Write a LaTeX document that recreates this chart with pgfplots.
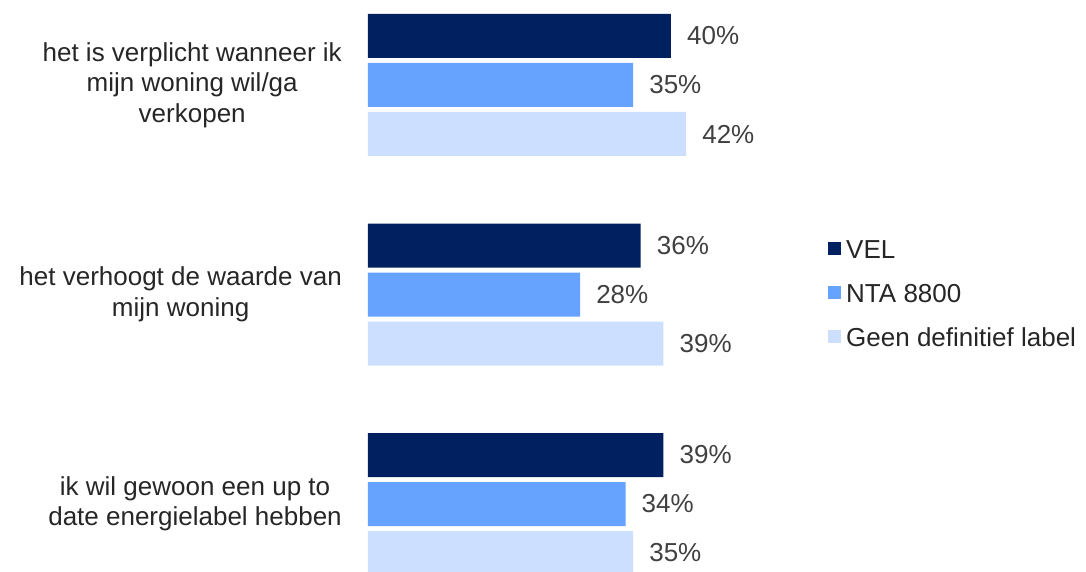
\documentclass[border=0pt]{standalone}
\usepackage{pgfplots}
\pgfplotsset{compat=1.18}
\usepackage{fontspec}
\setmainfont{Liberation Sans}
\definecolor{vel}{HTML}{002060}
\definecolor{nta}{HTML}{66A2FF}
\definecolor{geen}{HTML}{CCDFFF}
\definecolor{lbl}{HTML}{262626}
\definecolor{val}{HTML}{404040}
\newcommand{\bigfont}{\fontsize{26}{30.5}\selectfont}
\begin{document}
\begin{tikzpicture}
\begin{axis}[
  xbar, scale only axis, width=718pt, height=571pt,
  xmin=0, xmax=94.79, ymin=-0.4057, ymax=2.3198, y dir=reverse,
  axis line style={draw=none}, tick style={draw=none}, major tick length=0pt,
  xtick=\empty, ytick={0,1,2},
  /pgf/number format/assume math mode=true,
  yticklabels={{het is verplicht wanneer ik\\mijn woning wil/ga\\verkopen},{het verhoogt de waarde van\\mijn woning},{ik wil gewoon een up to\\date energielabel hebben}},
  yticklabel style={align=center, font=\bigfont, text=lbl, anchor=east, inner sep=0pt, xshift=-26pt},
  bar width=44pt,
  nodes near coords={\pgfmathprintnumber{\pgfplotspointmeta}\%},
  every node near coord/.append style={font=\bigfont, text=val, anchor=west, inner sep=0pt, xshift=16pt},
  legend style={at={(0.6407,0.487)}, anchor=west, draw=none, fill=none, inner sep=0pt,
    font=\bigfont, text=lbl, row sep=25pt,
    nodes={inner sep=0pt, text height=19pt, text depth=0pt},
    /tikz/every odd column/.style={column sep=5pt}},
  legend cell align=left,
  legend image code/.code={\fill[#1] (0pt,-6.5pt) rectangle (13pt,6.5pt);},
]
\addplot[fill=vel, draw=none, bar shift=49pt] coordinates {(40,0) (36,1) (39,2)};
\addplot[fill=nta, draw=none, bar shift=0pt] coordinates {(35,0) (28,1) (34,2)};
\addplot[fill=geen, draw=none, bar shift=-49pt] coordinates {(42,0) (39,1) (35,2)};
\legend{VEL, NTA 8800, Geen definitief label}
\end{axis}
\path (current axis.south west) -- ++(-368pt,0pt);
\end{tikzpicture}
\end{document}
